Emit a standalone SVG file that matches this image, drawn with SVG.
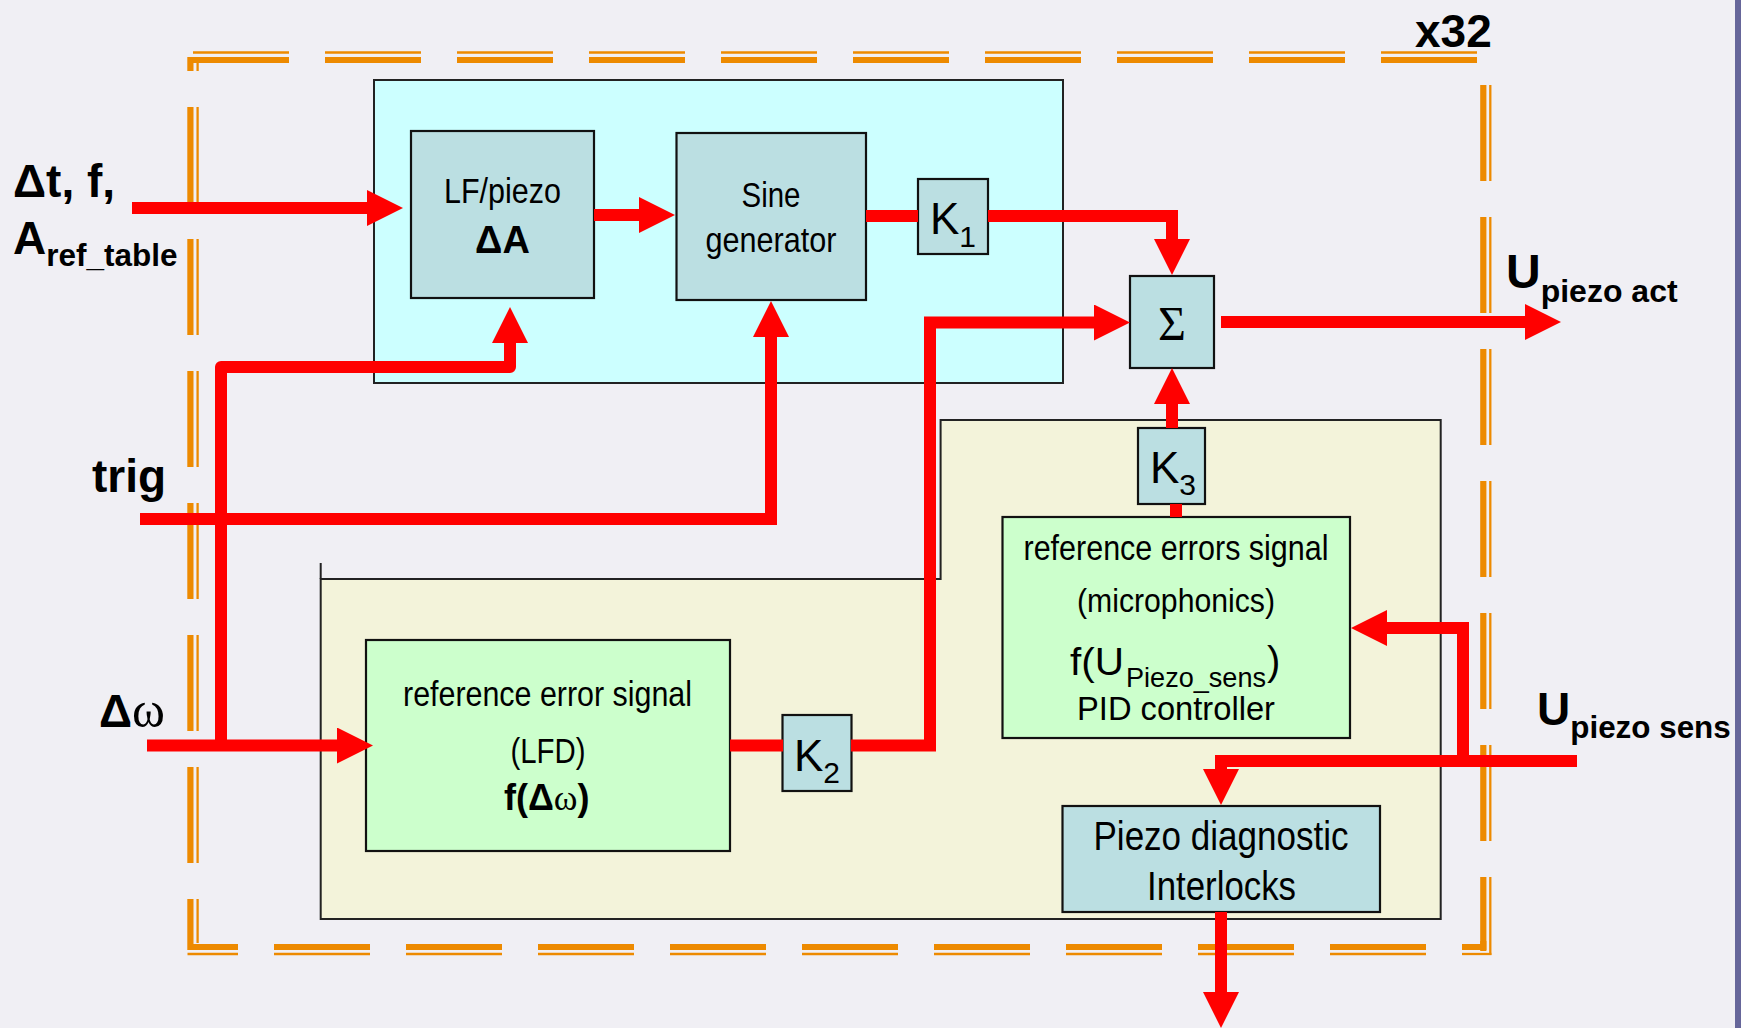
<svg xmlns="http://www.w3.org/2000/svg" width="1741" height="1028" viewBox="0 0 1741 1028">
<defs>
<marker id="ah" markerUnits="userSpaceOnUse" markerWidth="36" markerHeight="36" refX="1" refY="18" orient="auto" viewBox="0 0 36 36">
<path d="M0,0 L36,18 L0,36 Z" fill="#ff0000"/>
</marker>
<style>
.bg{fill:#f0eff4}
.ob{fill:none;stroke:#ed8a00;stroke-linejoin:miter;stroke-linecap:butt}
.thk{stroke-width:6.2}
.thn{stroke-width:2.3}
.dash{stroke-dasharray:96 36}
.panel{stroke:#222;stroke-width:2}
.teal{fill:#bbdfe2;stroke:#111;stroke-width:2.2}
.green{fill:#ccffcc;stroke:#111;stroke-width:2.2}
.wire{fill:none;stroke:#ff0000;stroke-width:12;stroke-linejoin:miter}
.rnd{stroke-linejoin:round}
.arr{marker-end:url(#ah)}
.t{font-family:"Liberation Sans",Arial,sans-serif;fill:#000}
.n{font-size:35px}
.c{text-anchor:middle}
.b{font-weight:bold}
.lbl{font-weight:bold;font-size:46px}
.k{font-size:44px}
.ks{font-size:30px}
.sf{font-family:"Liberation Serif","Times New Roman",serif}
</style>
</defs>
<rect class="bg" x="0" y="0" width="1741" height="1028"/>
<rect x="1735" y="0" width="6" height="1028" fill="#66669a"/>

<g id="border">
<line class="ob thk dash" x1="193" y1="60" x2="1477" y2="60"/>
<line class="ob thn dash" x1="193" y1="52.5" x2="1477" y2="52.5"/>
<path class="ob thk" d="M190.4,71 V60 H193"/>
<line class="ob thn" x1="197.6" y1="57" x2="197.6" y2="71"/>
<line class="ob thk dash" x1="1483.3" y1="85" x2="1483.3" y2="951"/>
<line class="ob thn dash" x1="1490.3" y1="85" x2="1490.3" y2="955"/>
<line class="ob thk dash" x1="190.4" y1="107" x2="190.4" y2="863"/>
<line class="ob thn dash" x1="197.6" y1="107" x2="197.6" y2="863"/>
<line class="ob thk dash" x1="274" y1="947" x2="1426" y2="947"/>
<line class="ob thn dash" x1="274" y1="954" x2="1426" y2="954"/>
<path class="ob thk" d="M190.4,899 V947 H238"/>
<line class="ob thn" x1="197.6" y1="899" x2="197.6" y2="943"/>
<line class="ob thn" x1="187.5" y1="954" x2="238" y2="954"/>
<path class="ob thk" d="M1483.3,941 V947 H1462"/>
<line class="ob thn" x1="1462" y1="954" x2="1491.4" y2="954"/>
<text class="t lbl" x="1415" y="47">x32</text>
</g>

<g id="lower-panel">
<polygon class="panel" fill="#f3f3da" points="320.7,579 940.6,579 940.6,420 1440.7,420 1440.7,919 320.7,919"/>
<line class="panel" x1="320.7" y1="563" x2="320.7" y2="579"/>
</g>
<g id="upper-panel">
<rect class="panel" fill="#ccffff" x="374" y="80" width="689" height="303"/>
</g>

<g id="lf-piezo">
<rect class="teal" x="411" y="131" width="183" height="167"/>
<text class="t n c" x="502.5" y="203" textLength="117" lengthAdjust="spacingAndGlyphs">LF/piezo</text>
<text class="t b c" x="502.5" y="253" font-size="38">ΔA</text>
</g>
<g id="sine">
<rect class="teal" x="676.5" y="133" width="189.5" height="167"/>
<text class="t n c" x="771" y="207" textLength="59" lengthAdjust="spacingAndGlyphs">Sine</text>
<text class="t n c" x="771" y="252" textLength="131" lengthAdjust="spacingAndGlyphs">generator</text>
</g>
<g id="k1">
<rect class="teal" x="918" y="179" width="70" height="75"/>
<text class="t k" x="930" y="234">K<tspan class="ks" y="247">1</tspan></text>
</g>
<g id="sum">
<rect class="teal" x="1130" y="276" width="84" height="92"/>
<text class="sf c" x="1172" y="340" font-size="48">Σ</text>
</g>
<g id="k3">
<rect class="teal" x="1138" y="428" width="67" height="76"/>
<text class="t k" x="1150" y="483">K<tspan class="ks" y="495">3</tspan></text>
</g>
<g id="pid">
<rect class="green" x="1002.5" y="517" width="347.5" height="221"/>
<text class="t n c" x="1176" y="560" textLength="305" lengthAdjust="spacingAndGlyphs">reference errors signal</text>
<text class="t c" font-size="33" x="1176" y="612" textLength="198" lengthAdjust="spacingAndGlyphs">(microphonics)</text>
<text class="t" font-size="38" x="1070" y="675"><tspan textLength="54" lengthAdjust="spacingAndGlyphs">f(U</tspan><tspan x="1126" y="687" font-size="28" textLength="140" lengthAdjust="spacingAndGlyphs">Piezo_sens</tspan><tspan x="1267" y="675" font-size="40">)</tspan></text>
<text class="t c" font-size="33" x="1176" y="720" textLength="198" lengthAdjust="spacingAndGlyphs">PID controller</text>
</g>
<g id="lfd">
<rect class="green" x="366" y="640" width="364" height="211"/>
<text class="t n c" x="547.5" y="706" textLength="289" lengthAdjust="spacingAndGlyphs">reference error signal</text>
<text class="t n c" x="548" y="763" textLength="75" lengthAdjust="spacingAndGlyphs">(LFD)</text>
<text class="t b" font-size="36" x="504" y="810">f(Δ<tspan class="sf" font-weight="normal">ω</tspan>)</text>
</g>
<g id="k2">
<rect class="teal" x="782.5" y="715" width="69" height="76"/>
<text class="t k" x="794" y="771">K<tspan class="ks" y="783">2</tspan></text>
</g>
<g id="diag">
<rect class="teal" x="1062.5" y="806" width="317.5" height="106"/>
<text class="t c" font-size="41" x="1221" y="850" textLength="255" lengthAdjust="spacingAndGlyphs">Piezo diagnostic</text>
<text class="t c" font-size="41" x="1221.5" y="900" textLength="149" lengthAdjust="spacingAndGlyphs">Interlocks</text>
</g>

<g id="labels">
<text class="t lbl" x="13" y="197">Δt, f,</text>
<text class="t lbl" x="13" y="254">A<tspan font-size="31.5" y="266">ref_table</tspan></text>
<text class="t lbl" x="92" y="492">trig</text>
<text class="t lbl" x="99" y="727">Δ<tspan class="sf" font-weight="normal" font-size="50">ω</tspan></text>
<text class="t b" font-size="48" x="1506" y="288">U<tspan font-size="32" y="302">piezo act</tspan></text>
<text class="t lbl" x="1537" y="725">U<tspan font-size="31.4" y="738">piezo sens</tspan></text>
</g>

<g id="connectors">
<path class="wire arr" d="M132,208 H368"/>
<path class="wire arr" d="M594,215 H640"/>
<path class="wire" d="M866,216 H918"/>
<path class="wire arr" d="M988,216 H1172 V240"/>
<path class="wire arr" d="M140,519 H771 V336"/>
<path class="wire arr" d="M147,745.5 H338"/>
<path class="wire rnd arr" d="M221,745.5 V367 H510 V342"/>
<path class="wire" d="M730,745.5 H783"/>
<path class="wire arr" d="M851,745.5 H930 V322.5 H1095"/>
<path class="wire arr" d="M1221,322 H1526"/>
<path class="wire arr" d="M1172,428 V403"/>
<path class="wire" d="M1176,517 V504"/>
<path class="wire arr" d="M1577,761 H1221 V770"/>
<path class="wire arr" d="M1463,761 V628 H1386"/>
<path class="wire arr" d="M1221,912 V993"/>
</g>
</svg>
